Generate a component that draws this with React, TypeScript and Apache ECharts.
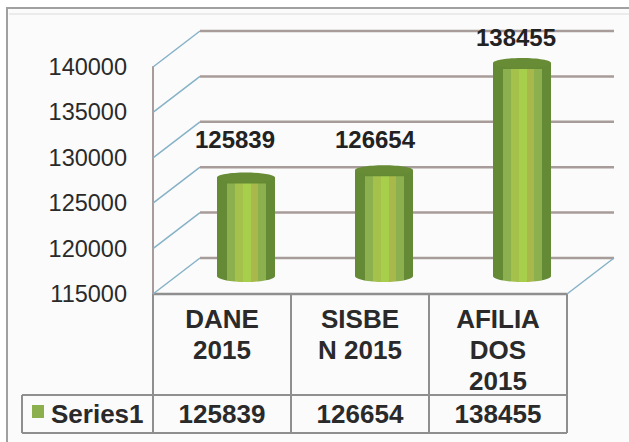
import React, { useEffect, useRef } from "react";
import * as echarts from "echarts";

const categories = ["DANE\n2015", "SISBE\nN 2015", "AFILIA\nDOS\n2015"];
const seriesName = "Series1";
const values = [125839, 126654, 138455];
const wallTicks = [115000, 120000, 125000, 130000, 135000, 140000];

const FONT = "'Liberation Sans', Arial, sans-serif";
const G = { left: 153, top: 67, width: 414, height: 227 };
const DEPTH = { x: 47, y: -36 };
const BAR = { dx: 24, dy: -18, w: 58, ry: 6 };
const LABEL_POS = [
  { dx: -11, y: 139 },
  { dx: -9, y: 139 },
  { dx: -6, y: 37 },
];
const TABLE = { top: 294, header: 395, bottom: 433, left: 22 };
const LINE = "#8f8f8f";
const GRIDC = "#a89c9a";
const DIAG = "#86b2c8";
const DARK = "#658a35";

const band = () => {
  const bands: [number, string][] = [
    [0.17, DARK],
    [0.31, "#8cb04e"],
    [0.44, "#a4c14c"],
    [0.58, "#a7cf4c"],
    [0.71, "#a9b84a"],
    [0.84, "#8cb04e"],
    [1, DARK],
  ];
  const stops: any[] = [];
  let p = 0;
  bands.forEach(([e, c]) => {
    stops.push({ offset: p, color: c }, { offset: e, color: c });
    p = e;
  });
  return new echarts.graphic.LinearGradient(0, 0, 1, 0, stops);
};

export default function App() {
  const ref = useRef<HTMLDivElement>(null);
  useEffect(() => {
    const chart = echarts.init(ref.current!, null, { renderer: "svg" });
    const ln = (x1: number, y1: number, x2: number, y2: number, w = 2, c = LINE) => ({
      type: "line",
      shape: { x1, y1, x2, y2 },
      style: { stroke: c, lineWidth: w },
      z: 1,
    });
    const tableX = [0, 1, 2, 3].map((i) => G.left + (G.width / 3) * i);
    chart.setOption({
      animation: false,
      backgroundColor: "#ffffff",
      grid: { left: G.left, top: G.top, width: G.width, height: G.height },
      xAxis: {
        type: "category",
        data: categories,
        axisLine: { show: false },
        axisTick: { show: false },
        axisLabel: {
          interval: 0,
          margin: 9,
          verticalAlign: "top",
          lineHeight: 31,
          fontFamily: FONT,
          fontWeight: "bold",
          fontSize: 26,
          color: "#2a2a2a",
        },
      },
      yAxis: {
        type: "value",
        min: 115000,
        max: 140000,
        interval: 5000,
        splitLine: { show: false },
        axisLine: { show: true, lineStyle: { color: GRIDC, width: 2 } },
        axisTick: { show: false },
        axisLabel: {
          margin: 26,
          fontFamily: FONT,
          fontSize: 23.5,
          color: "#2a2a2a",
          formatter: (v: number) => String(v),
        },
      },
      graphic: [
        {
          type: "rect",
          shape: { x: 7, y: 8, width: 640, height: 450 },
          style: { fill: "#fbfbfb", stroke: "#a0a0a0", lineWidth: 2 },
          z: -10,
        },
        { ...ln(9, 14, 629, 14, 1.5, "#e6e6e6"), z: -9 },
        ln(153, 294, 567, 294, 2.5),
        ...tableX.map((x) => ln(x, 294, x, TABLE.bottom)),
        ln(TABLE.left, TABLE.header, 567, TABLE.header),
        ln(TABLE.left, TABLE.bottom, 567, TABLE.bottom),
        ln(TABLE.left, TABLE.header, TABLE.left, TABLE.bottom),
        {
          type: "rect",
          shape: { x: 32, y: 405, width: 12, height: 13 },
          style: { fill: "#8cb04e" },
          z: 2,
        },
        {
          type: "text",
          style: {
            text: seriesName,
            x: 51,
            y: 414,
            verticalAlign: "middle",
            font: `bold 26px ${FONT}`,
            fill: "#2a2a2a",
          },
          z: 2,
        },
      ],
      series: [
        {
          type: "custom",
          coordinateSystem: "cartesian2d",
          clip: false,
          z: 1,
          data: wallTicks.map((t) => [0, t]),
          renderItem: (params: any, api: any) => {
            const y = api.coord([0, api.value(1)])[1];
            const c = params.coordSys;
            const right = c.x + c.width;
            const children: any[] = [
              {
                type: "line",
                shape: { x1: c.x, y1: y, x2: c.x + DEPTH.x, y2: y + DEPTH.y },
                style: { stroke: DIAG, lineWidth: 1.5 },
              },
              {
                type: "line",
                shape: { x1: c.x + DEPTH.x, y1: y + DEPTH.y, x2: right + DEPTH.x, y2: y + DEPTH.y },
                style: { stroke: GRIDC, lineWidth: 2.5 },
              },
            ];
            if (params.dataIndex === 0) {
              children.push({
                type: "line",
                shape: { x1: right, y1: y, x2: right + DEPTH.x, y2: y + DEPTH.y },
                style: { stroke: DIAG, lineWidth: 1.5 },
              });
            }
            return { type: "group", children };
          },
        },
        {
          type: "custom",
          coordinateSystem: "cartesian2d",
          clip: false,
          z: 3,
          data: values.map((v, i) => [i, v]),
          renderItem: (params: any, api: any) => {
            const i = api.value(0);
            const v = api.value(1);
            const [cx0, yTop0] = api.coord([i, v]);
            const yBase0 = api.coord([i, 115000])[1];
            const cx = cx0 + BAR.dx;
            const top = yTop0 + BAR.dy;
            const base = yBase0 + BAR.dy;
            const l = cx - BAR.w / 2;
            const pos = LABEL_POS[i];
            return {
              type: "group",
              children: [
                {
                  type: "ellipse",
                  shape: { cx, cy: base, rx: BAR.w / 2, ry: BAR.ry },
                  style: { fill: band() },
                },
                {
                  type: "rect",
                  shape: { x: l, y: top, width: BAR.w, height: base - top },
                  style: { fill: band() },
                },
                {
                  type: "rect",
                  shape: { x: l, y: top, width: BAR.w, height: BAR.ry },
                  style: { fill: DARK },
                },
                {
                  type: "ellipse",
                  shape: { cx, cy: top, rx: BAR.w / 2, ry: BAR.ry - 1 },
                  style: { fill: "#678c35" },
                },
                {
                  type: "text",
                  style: {
                    text: String(v),
                    x: cx + pos.dx,
                    y: pos.y,
                    align: "center",
                    verticalAlign: "middle",
                    font: `bold 24px ${FONT}`,
                    fill: "#222222",
                  },
                },
              ],
            };
          },
        },
        {
          type: "custom",
          coordinateSystem: "cartesian2d",
          clip: false,
          z: 3,
          data: values.map((v, i) => [i, v]),
          renderItem: (_p: any, api: any) => {
            const x = api.coord([api.value(0), 115000])[0];
            return {
              type: "text",
              style: {
                text: String(api.value(1)),
                x,
                y: 414,
                align: "center",
                verticalAlign: "middle",
                font: `bold 26px ${FONT}`,
                fill: "#2a2a2a",
              },
            };
          },
        },
      ],
    });
    return () => chart.dispose();
  }, []);
  return <div ref={ref} style={{ position: "fixed", left: 0, top: 0, width: 629, height: 442 }} />;
}
